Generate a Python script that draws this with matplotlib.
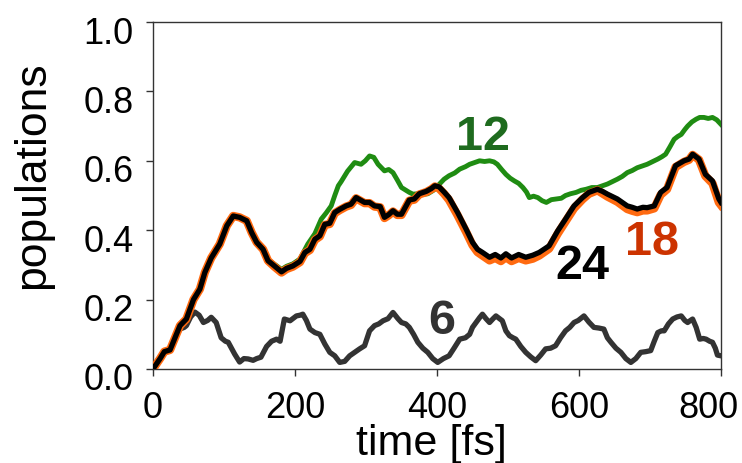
import matplotlib
matplotlib.use("Agg")
import matplotlib.pyplot as plt
import matplotlib.transforms as mtransforms

plt.rcParams['font.family'] = ['Liberation Sans', 'DejaVu Sans']

# ---- data ----
t_black = [0, 10, 16, 24, 31, 38, 47, 57, 66, 73, 82, 94, 104, 113, 122, 132, 139, 146, 155, 162,
           171, 181, 188, 197, 207, 214, 221, 228, 235, 242, 249, 256, 263, 272, 279, 286, 298, 305,
           312, 320, 326, 332, 338, 344, 350, 361, 368, 375, 385, 392, 397, 403, 410, 417, 429, 441,
           450, 457, 464, 474, 482, 490, 497, 505, 515, 525, 535, 544, 558, 570, 581, 593, 605, 614,
           626, 633, 640, 654, 668, 675, 682, 690, 696, 706, 715, 724, 736, 748, 755, 760, 769, 778,
           788, 797, 800]
pop_24 = [0.0, 0.03, 0.05, 0.055, 0.09, 0.125, 0.144, 0.20, 0.23, 0.278, 0.32, 0.36, 0.413, 0.441,
          0.437, 0.427, 0.393, 0.365, 0.345, 0.312, 0.297, 0.28, 0.29, 0.297, 0.31, 0.336, 0.345,
          0.374, 0.384, 0.417, 0.42, 0.451, 0.46, 0.47, 0.475, 0.494, 0.48, 0.48, 0.47, 0.468, 0.437,
          0.445, 0.456, 0.446, 0.446, 0.487, 0.49, 0.505, 0.512, 0.52, 0.528, 0.525, 0.51, 0.494,
          0.451, 0.403, 0.365, 0.345, 0.336, 0.322, 0.33, 0.32, 0.332, 0.32, 0.33, 0.322, 0.328,
          0.336, 0.355, 0.398, 0.432, 0.47, 0.494, 0.509, 0.518, 0.512, 0.504, 0.49, 0.47, 0.466,
          0.461, 0.466, 0.465, 0.47, 0.509, 0.523, 0.586, 0.60, 0.605, 0.619, 0.605, 0.561, 0.542,
          0.49, 0.48]
pop_18 = [0.0, 0.03, 0.05, 0.055, 0.09, 0.125, 0.144, 0.20, 0.23, 0.278, 0.32, 0.36, 0.413, 0.441,
          0.437, 0.427, 0.393, 0.365, 0.345, 0.312, 0.295, 0.278, 0.288, 0.295, 0.308, 0.334, 0.343,
          0.372, 0.382, 0.415, 0.418, 0.449, 0.458, 0.468, 0.473, 0.492, 0.478, 0.478, 0.468, 0.466,
          0.435, 0.443, 0.454, 0.444, 0.444, 0.485, 0.488, 0.503, 0.51, 0.518, 0.526, 0.52, 0.505,
          0.487, 0.443, 0.395, 0.357, 0.337, 0.327, 0.313, 0.32, 0.311, 0.322, 0.311, 0.32, 0.313,
          0.318, 0.327, 0.347, 0.39, 0.425, 0.463, 0.489, 0.505, 0.515, 0.506, 0.497, 0.482, 0.461,
          0.456, 0.452, 0.457, 0.457, 0.463, 0.502, 0.518, 0.582, 0.597, 0.603, 0.617, 0.603, 0.556,
          0.535, 0.48, 0.472]

t_green = [0, 10, 16, 24, 31, 38, 47, 57, 66, 73, 82, 94, 104, 113, 122, 132, 139, 146, 155, 162,
           171, 181, 188, 197, 207, 218, 228, 237, 244, 251, 256, 261, 265, 274, 284, 293, 299, 305,
           311, 317, 326, 332, 338, 344, 350, 361, 366, 374, 380, 387, 395, 403, 410, 417, 425, 432,
           440, 446, 453, 460, 467, 474, 480, 485, 491, 497, 503, 509, 515, 521, 526, 530, 536, 542,
           548, 554, 561, 568, 575, 581, 588, 596, 603, 610, 618, 626, 633, 640, 647, 654, 661, 668,
           675, 682, 689, 696, 703, 711, 717, 722, 728, 734, 739, 744, 749, 753, 759, 765, 770, 776,
           782, 788, 794, 800]
pop_12 = [0.0, 0.03, 0.05, 0.055, 0.09, 0.125, 0.144, 0.20, 0.23, 0.278, 0.32, 0.36, 0.413, 0.441,
          0.437, 0.427, 0.393, 0.365, 0.345, 0.315, 0.302, 0.287, 0.296, 0.303, 0.317, 0.36, 0.39,
          0.432, 0.45, 0.47, 0.50, 0.528, 0.54, 0.57, 0.595, 0.59, 0.60, 0.614, 0.61, 0.59, 0.571,
          0.575, 0.566, 0.545, 0.523, 0.509, 0.504, 0.505, 0.503, 0.505, 0.515, 0.532, 0.547, 0.557,
          0.565, 0.576, 0.583, 0.59, 0.595, 0.60, 0.598, 0.60, 0.597, 0.59, 0.575, 0.561, 0.55,
          0.542, 0.535, 0.523, 0.51, 0.494, 0.498, 0.494, 0.485, 0.48, 0.488, 0.49, 0.492, 0.50,
          0.505, 0.509, 0.515, 0.518, 0.523, 0.523, 0.528, 0.533, 0.54, 0.547, 0.555, 0.566, 0.572,
          0.58, 0.585, 0.59, 0.597, 0.605, 0.612, 0.619, 0.64, 0.662, 0.67, 0.676, 0.69, 0.70,
          0.712, 0.72, 0.725, 0.725, 0.722, 0.725, 0.718, 0.705]

t_gray = [0, 10, 16, 24, 31, 38, 44, 47, 53, 59, 65, 71, 77, 82, 89, 96, 102, 106, 115, 122, 128,
          134, 141, 146, 152, 160, 167, 174, 179, 185, 193, 202, 207, 211, 216, 221, 228, 235, 242,
          249, 256, 263, 270, 277, 284, 291, 298, 305, 312, 318, 324, 331, 338, 345, 350, 356, 361,
          367, 373, 380, 387, 394, 401, 409, 417, 424, 432, 440, 446, 450, 455, 460, 464, 469, 474,
          479, 483, 488, 492, 497, 502, 507, 511, 518, 525, 532, 539, 546, 553, 560, 567, 574, 581,
          587, 593, 599, 607, 614, 621, 628, 635, 640, 645, 652, 659, 666, 673, 680, 687, 694, 701,
          706, 711, 716, 720, 726, 732, 738, 744, 749, 753, 757, 760, 765, 770, 775, 779, 784, 788,
          792, 795, 800]
pop_6 = [0.0, 0.03, 0.05, 0.055, 0.09, 0.115, 0.12, 0.125, 0.15, 0.164, 0.155, 0.134, 0.14, 0.149,
         0.134, 0.09, 0.08, 0.077, 0.043, 0.02, 0.03, 0.029, 0.025, 0.03, 0.034, 0.065, 0.08, 0.086,
         0.08, 0.144, 0.139, 0.153, 0.155, 0.158, 0.14, 0.115, 0.105, 0.10, 0.072, 0.048, 0.038,
         0.019, 0.022, 0.038, 0.048, 0.058, 0.067, 0.11, 0.125, 0.13, 0.139, 0.145, 0.163, 0.145,
         0.134, 0.13, 0.12, 0.10, 0.077, 0.06, 0.048, 0.03, 0.019, 0.03, 0.038, 0.06, 0.086, 0.09,
         0.10, 0.12, 0.134, 0.148, 0.158, 0.145, 0.134, 0.145, 0.153, 0.145, 0.139, 0.11, 0.096,
         0.09, 0.086, 0.065, 0.048, 0.035, 0.024, 0.04, 0.058, 0.06, 0.067, 0.09, 0.11, 0.12, 0.134,
         0.14, 0.153, 0.135, 0.12, 0.118, 0.115, 0.09, 0.077, 0.06, 0.048, 0.03, 0.019, 0.03, 0.048,
         0.05, 0.053, 0.08, 0.105, 0.11, 0.11, 0.13, 0.144, 0.15, 0.153, 0.14, 0.134, 0.14, 0.144,
         0.12, 0.086, 0.088, 0.086, 0.08, 0.077, 0.06, 0.04, 0.038]

labels = ["12", "24", "18", "6"]
label_pos_t = [465, 605, 703, 407]
label_pos_y = [0.67, 0.298, 0.366, 0.14]
label_colors = ["#1e6b1e", "#000000", "#cc3300", "#333333"]

xticks = [0, 200, 400, 600, 800]
yticks = [0.0, 0.2, 0.4, 0.6, 0.8, 1.0]

# ---- figure ----
fig = plt.figure(figsize=(7.42, 4.64), dpi=100)
ax = fig.add_axes([153 / 742, 1 - 370 / 464, (721 - 153) / 742, (370 - 23) / 464])

ax.plot(t_gray, pop_6, color="#333333", lw=3.8, solid_joinstyle="round", solid_capstyle="round", zorder=2)
ax.plot(t_green, pop_12, color="#1f8c12", lw=3.5, solid_joinstyle="round", zorder=3)
ax.plot(t_black, pop_18, color="#ff6a10", lw=6.0, solid_joinstyle="round", zorder=4)
ax.plot(t_black, pop_24, color="#000000", lw=3.8, solid_joinstyle="round", zorder=5)

for lab, tx, ty, c in zip(labels, label_pos_t, label_pos_y, label_colors):
    ax.text(tx, ty, lab, color=c, fontsize=35, fontweight="bold", ha="center", va="center", zorder=6)

ax.set_xlim(0, 800)
ax.set_ylim(0, 1.0)
ax.set_xticks(xticks)
ax.set_xticklabels([str(v) for v in xticks])
ax.set_yticks(yticks)
ax.set_yticklabels([f"{v:.1f}" for v in yticks])
ax.tick_params(axis="both", direction="out", length=5, width=1, labelsize=26, color="#333333")
ax.tick_params(axis="y", pad=9)
ax.tick_params(axis="x", pad=10)
for sp in ax.spines.values():
    sp.set_linewidth(1.0)
    sp.set_color("#333333")

off = mtransforms.ScaledTranslation(0, -7 / 100, fig.dpi_scale_trans)
for lbl in ax.get_yticklabels():
    lbl.set_transform(lbl.get_transform() + off)

# the reference pulls the last x tick label slightly left so it stays inside
xlbls = ax.get_xticklabels()
xoff = mtransforms.ScaledTranslation(-13 / 100, 0, fig.dpi_scale_trans)
xlbls[-1].set_transform(xlbls[-1].get_transform() + xoff)

ax.set_xlabel("time [fs]", fontsize=31)
ax.xaxis.set_label_coords(0.49, -0.155)
ax.set_ylabel("populations", fontsize=32)
ax.yaxis.set_label_coords(-0.175, 0.56)

fig.savefig("out.png", dpi=100)
